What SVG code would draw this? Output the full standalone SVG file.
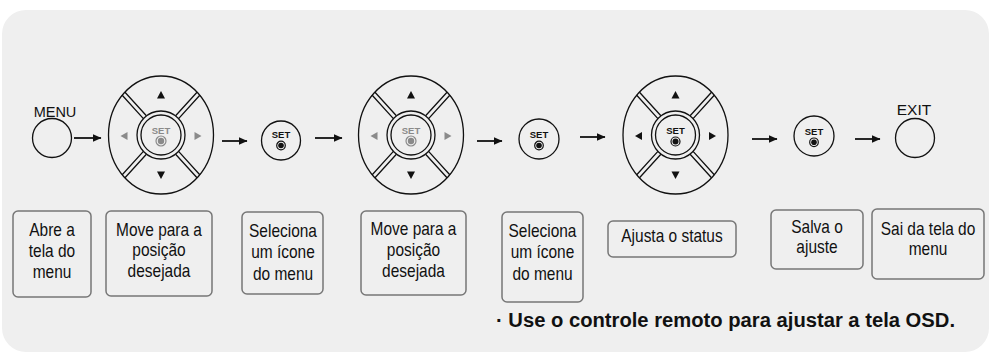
<svg xmlns="http://www.w3.org/2000/svg" width="990" height="354" viewBox="0 0 990 354">
<style>
.bg{fill:#efefef}
.ln{stroke:#111;stroke-width:1.3;fill:none}
.box{fill:#efefef;stroke:#777;stroke-width:1.5}
.bt{font-family:"Liberation Sans",Arial,sans-serif;font-size:18px;fill:#111;text-anchor:middle}
.lbl{font-family:"Liberation Sans",Arial,sans-serif;font-size:14.5px;fill:#111;text-anchor:middle}
.set{font-family:"Liberation Sans",Arial,sans-serif;font-size:9.5px;font-weight:bold;text-anchor:middle}
.k{fill:#111}
.g{fill:#8a8a8a}
.arr{stroke:#111;stroke-width:1.8;fill:none}
.note{font-family:"Liberation Sans",Arial,sans-serif;font-size:20px;font-weight:bold;fill:#111}
</style>
<defs>
<marker id="ah" markerWidth="9" markerHeight="8" refX="8.5" refY="4" orient="auto" markerUnits="userSpaceOnUse">
<path d="M0,0 L9,4 L0,8 z" fill="#111"/>
</marker>
<g id="pad">
<ellipse cx="0" cy="0" rx="52.5" ry="59" class="ln"/>
<circle cx="0" cy="0" r="24" class="ln"/>
<circle cx="0" cy="0" r="20" class="ln"/>
<path class="ln" d="M-14.6,-19.2 L-36,-42.8 M-17.6,-16.4 L-39,-40 M14.6,-19.2 L36,-42.8 M17.6,-16.4 L39,-40 M-14.6,19.2 L-36,42.8 M-17.6,16.4 L-39,40 M14.6,19.2 L36,42.8 M17.6,16.4 L39,40"/>
<polygon class="k" points="0,-44 -4,-36.5 4,-36.5"/>
<polygon class="k" points="0,44 -4,36.5 4,36.5"/>
</g>
<g id="lr">
<polygon points="-40.5,1 -33.5,-3 -33.5,5"/>
<polygon points="40.5,1 33.5,-3 33.5,5"/>
</g>
</defs>

<rect class="bg" x="2" y="10" width="987" height="342" rx="24"/>

<g id="menu-btn">
<text class="lbl" x="55" y="117">MENU</text>
<circle cx="52" cy="138" r="19.5" class="ln"/>
</g>

<g id="dpad1" transform="translate(161 135)">
<use href="#pad"/>
<use href="#lr" class="g"/>
<text class="set g" x="0" y="-1">SET</text>
<circle cx="0" cy="6" r="5" fill="none" stroke="#8a8a8a" stroke-width="1.2"/>
<circle cx="0" cy="6" r="3.2" class="g"/>
</g>

<g id="set1" transform="translate(281 140.5)">
<circle cx="0" cy="0" r="19.5" class="ln"/>
<text class="set k" x="0" y="-2.5">SET</text>
<circle cx="0" cy="5" r="4.3" fill="none" stroke="#111" stroke-width="1.2"/>
<circle cx="0" cy="5" r="2.8" class="k"/>
</g>

<g id="dpad2" transform="translate(411 135)">
<use href="#pad"/>
<use href="#lr" class="g"/>
<text class="set g" x="0" y="-1">SET</text>
<circle cx="0" cy="6" r="5" fill="none" stroke="#8a8a8a" stroke-width="1.2"/>
<circle cx="0" cy="6" r="3.2" class="g"/>
</g>

<g id="set2" transform="translate(539 139)">
<circle cx="0" cy="0" r="20" class="ln"/>
<text class="set k" x="0" y="-1">SET</text>
<circle cx="0" cy="6.5" r="4.3" fill="none" stroke="#111" stroke-width="1.2"/>
<circle cx="0" cy="6.5" r="2.8" class="k"/>
</g>

<g id="dpad3" transform="translate(675.5 135)">
<use href="#pad"/>
<use href="#lr" class="k"/>
<text class="set k" x="0" y="-1">SET</text>
<circle cx="0" cy="6.5" r="4.5" fill="none" stroke="#111" stroke-width="1.2"/>
<circle cx="0" cy="6.5" r="3" class="k"/>
</g>

<g id="set3" transform="translate(814 136)">
<circle cx="0" cy="0" r="20" class="ln"/>
<text class="set k" x="0" y="-1.5">SET</text>
<circle cx="0" cy="6.3" r="4.3" fill="none" stroke="#111" stroke-width="1.2"/>
<circle cx="0" cy="6.3" r="2.8" class="k"/>
</g>

<g id="exit-btn">
<text class="lbl" x="914" y="115" style="font-size:15.5px">EXIT</text>
<circle cx="915" cy="138" r="19.5" class="ln"/>
</g>

<g id="connectors">
<line class="arr" x1="74" y1="138" x2="101" y2="138" marker-end="url(#ah)"/>
<line class="arr" x1="222" y1="141" x2="247" y2="141" marker-end="url(#ah)"/>
<line class="arr" x1="315" y1="138" x2="342" y2="138" marker-end="url(#ah)"/>
<line class="arr" x1="477" y1="141" x2="502" y2="141" marker-end="url(#ah)"/>
<line class="arr" x1="580" y1="137" x2="605" y2="137" marker-end="url(#ah)"/>
<line class="arr" x1="752" y1="139" x2="777" y2="139" marker-end="url(#ah)"/>
<line class="arr" x1="855" y1="139" x2="880" y2="139" marker-end="url(#ah)"/>
</g>

<g id="box1">
<rect class="box" x="13" y="211" width="78" height="86" rx="5"/>
<g transform="translate(52 0) scale(0.86 1)">
<text class="bt" x="0" y="236">Abre a</text>
<text class="bt" x="0" y="257">tela do</text>
<text class="bt" x="0" y="278">menu</text>
</g>
</g>

<g id="box2">
<rect class="box" x="106" y="211" width="106" height="85" rx="5"/>
<g transform="translate(159 0) scale(0.86 1)">
<text class="bt" x="0" y="236">Move para a</text>
<text class="bt" x="0" y="256">posição</text>
<text class="bt" x="0" y="277">desejada</text>
</g>
</g>

<g id="box3">
<rect class="box" x="242" y="212" width="81" height="82" rx="5"/>
<g transform="translate(283 0) scale(0.86 1)">
<text class="bt" x="0" y="237">Seleciona</text>
<text class="bt" x="0" y="258">um ícone</text>
<text class="bt" x="0" y="280">do menu</text>
</g>
</g>

<g id="box4">
<rect class="box" x="361" y="211" width="105" height="84" rx="5"/>
<g transform="translate(413.5 0) scale(0.86 1)">
<text class="bt" x="0" y="235">Move para a</text>
<text class="bt" x="0" y="256">posição</text>
<text class="bt" x="0" y="277">desejada</text>
</g>
</g>

<g id="box5">
<rect class="box" x="502" y="212" width="81" height="90" rx="5"/>
<g transform="translate(542.5 0) scale(0.86 1)">
<text class="bt" x="0" y="237">Seleciona</text>
<text class="bt" x="0" y="258">um ícone</text>
<text class="bt" x="0" y="280">do menu</text>
</g>
</g>

<g id="box6">
<rect class="box" x="608" y="221" width="128" height="36" rx="5"/>
<g transform="translate(672 0) scale(0.86 1)">
<text class="bt" x="0" y="242">Ajusta o status</text>
</g>
</g>

<g id="box7">
<rect class="box" x="771" y="210" width="92" height="59" rx="5"/>
<g transform="translate(817 0) scale(0.86 1)">
<text class="bt" x="0" y="233">Salva o</text>
<text class="bt" x="0" y="253">ajuste</text>
</g>
</g>

<g id="box8">
<rect class="box" x="872" y="209" width="112" height="70" rx="5"/>
<g transform="translate(928 0) scale(0.86 1)">
<text class="bt" x="0" y="235">Sai da tela do</text>
<text class="bt" x="0" y="255">menu</text>
</g>
</g>

<text class="note" x="496" y="327" textLength="459" lengthAdjust="spacingAndGlyphs">· Use o controle remoto para ajustar a tela OSD.</text>
</svg>
